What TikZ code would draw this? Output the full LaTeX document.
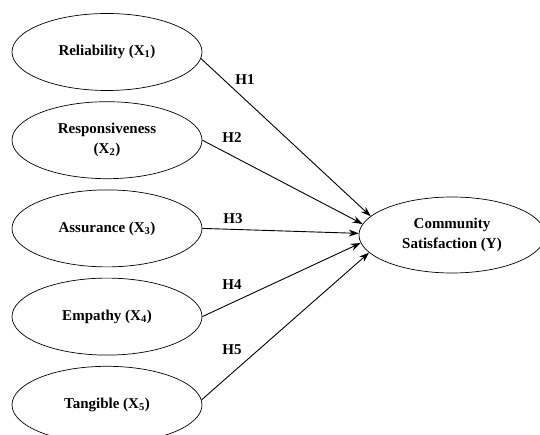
\documentclass[tikz,border=0pt]{standalone}
\usepackage{fontspec}
\setmainfont{Liberation Serif}
\usetikzlibrary{shapes.geometric, arrows.meta, positioning}

\tikzset{
    var/.style={draw, ellipse, line width=0.7pt, minimum width=190pt, minimum height=77pt,
        align=center, font=\fontsize{15}{20}\selectfont\bfseries},
    dep/.style={var, minimum width=186pt, minimum height=76pt},
    path/.style={line width=0.9pt, -{Stealth[length=10pt, width=7pt]}},
    hyp/.style={font=\fontsize{15}{18}\selectfont\bfseries, inner sep=1pt}
}

\begin{document}
\begin{tikzpicture}[x=1pt, y=-1pt]
        \useasboundingbox (0,0) rectangle (540,435);
        % independent variables
        \node[var] (x1) at (107,52) {Reliability (X\textsubscript{1})};
        \node[var, below = 10.5pt of x1] (x2) {Responsiveness\\(X\textsubscript{2})};
        \node[var, below = 10.5pt of x2] (x3) {Assurance (X\textsubscript{3})};
        \node[var, below = 10.5pt of x3] (x4) {Empathy (X\textsubscript{4})};
        \node[var, below = 10.5pt of x4] (x5) {Tangible (X\textsubscript{5})};
        % dependent variable
        \node[dep] (y) at (452,235) {Community\\Satisfaction (Y)};

        \draw[path] (x1.-4) -- (y.167);
        \draw[path] (x2.east) -- (y.173);
        \draw[path] (x3.east) -- (y.179);
        \draw[path] (x4.east) -- (y.185);
        \draw[path] (x5.3) -- (y.192);

        \node[hyp] (h1) at (245,80) {H1};
        \node[hyp] (h2) at (232,138) {H2};
        \node[hyp] (h3) at (233,219) {H3};
        \node[hyp] (h4) at (232,285) {H4};
        \node[hyp] (h5) at (232,350) {H5};
\end{tikzpicture}
\end{document}
